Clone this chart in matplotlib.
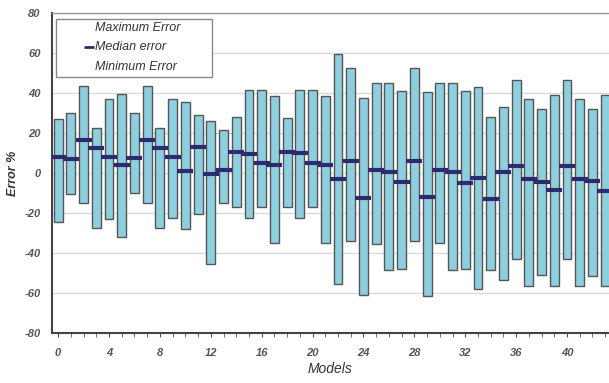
import matplotlib
matplotlib.use("Agg")
import matplotlib.pyplot as plt
from matplotlib.patches import Rectangle
from matplotlib.lines import Line2D
import numpy as np

models = list(range(44))
max_error = [27.2, 29.9, 43.7, 22.7, 36.9, 39.7, 29.9, 43.7, 22.4, 36.9,
             35.7, 29.0, 25.9, 21.4, 28.0, 41.4, 41.4, 38.7, 27.7, 41.4,
             41.4, 38.7, 59.6, 52.8, 37.6, 44.9, 44.9, 41.1, 52.8, 40.4,
             44.9, 44.9, 41.1, 42.9, 27.9, 33.2, 46.4, 36.9, 31.9, 39.2,
             46.4, 36.9, 31.9, 39.2]
min_error = [-24.4, -10.5, -15.2, -27.7, -22.9, -32.0, -10.2, -15.2, -27.7, -22.7,
             -28.2, -20.5, -45.4, -15.2, -17.2, -22.7, -17.2, -34.9, -17.2, -22.7,
             -17.2, -34.9, -55.3, -33.9, -60.9, -35.7, -48.6, -48.2, -33.9, -61.6,
             -35.2, -48.6, -48.2, -57.9, -48.6, -53.3, -43.2, -56.6, -51.1, -56.6,
             -43.2, -56.6, -51.3, -56.6]
median_error = [8.2, 7.2, 16.5, 12.7, 8.3, 4.3, 7.5, 16.5, 12.7, 8.2,
                1.2, 13.0, -0.2, 1.5, 10.7, 9.8, 5.2, 4.3, 10.5, 10.0,
                5.2, 4.3, -2.7, 6.3, -12.7, 1.5, 0.7, -4.5, 6.3, -12.2,
                1.5, 0.5, -5.0, -2.5, -13.0, 0.7, 3.5, -3.0, -4.5, -8.7,
                3.5, -3.0, -4.0, -8.8]
legend_labels = ['Maximum Error', 'Median error', 'Minimum Error']
xtick_labels = [0, 4, 8, 12, 16, 20, 24, 28, 32, 36, 40]
ytick_labels = [-80, -60, -40, -20, 0, 20, 40, 60, 80]

plt.rcParams['font.family'] = ['Liberation Sans', 'DejaVu Sans']

fig = plt.figure(figsize=(6.09, 3.83), dpi=100)
ax = fig.add_axes([0.085, 0.131, 0.915, 0.834])

x = np.array(models)
mx = np.array(max_error)
mn = np.array(min_error)
ax.bar(x, mx - mn, bottom=mn, width=0.7, color='#8ecfdf',
       edgecolor='#555555', linewidth=1.0, zorder=3)
ax.plot(x, median_error, ls='none', marker='_', ms=12, mew=3,
        color='#2e2a6e', zorder=4)

ax.set_xlim(-0.5, 43.3)
ax.set_ylim(-80, 80)
ax.set_yticks(ytick_labels)
ax.set_yticklabels([str(v) for v in ytick_labels])
ax.set_xticks(xtick_labels)
ax.set_xticklabels([str(v) for v in xtick_labels])
ax.set_xticks(models, minor=True)
ax.yaxis.grid(True, color='#d9d9d9', linewidth=1.0, zorder=0)
ax.set_axisbelow(True)

for lab in ax.get_xticklabels() + ax.get_yticklabels():
    lab.set_fontstyle('italic')
    lab.set_fontweight('bold')
    lab.set_color('#555555')
    lab.set_fontsize(8)

ax.tick_params(axis='y', length=0, pad=8)
ax.tick_params(axis='x', which='both', direction='out', length=3,
               color='#555555', pad=8)

ax.spines['left'].set_color('#444444')
ax.spines['left'].set_linewidth(1.5)
ax.spines['bottom'].set_color('#444444')
ax.spines['bottom'].set_linewidth(1.5)
ax.spines['top'].set_color('#999999')
ax.spines['top'].set_linewidth(1.0)
ax.spines['right'].set_visible(False)

ax.set_ylabel('Error %', fontstyle='italic', fontweight='bold',
              color='#333333', fontsize=9, labelpad=4)
ax.set_xlabel('Models', fontstyle='italic', color='#333333',
              fontsize=10, labelpad=3)

# legend box drawn by hand to match the original layout
box = Rectangle((0.0077, 0.800), 0.279, 0.182, transform=ax.transAxes,
                facecolor='white', edgecolor='#888888', linewidth=1.0,
                zorder=6)
ax.add_patch(box)
text_y = [0.953, 0.894, 0.833]
for lbl, ty in zip(legend_labels, text_y):
    ax.text(0.0777, ty, lbl, transform=ax.transAxes, ha='left', va='center',
            fontstyle='italic', fontsize=9, color='#333333', zorder=7)
ax.add_line(Line2D([0.0673], [text_y[1]], transform=ax.transAxes, ls='none',
                   marker='_', ms=7, mew=2, color='#2e2a6e', zorder=7))

fig.savefig('out.png', dpi=100)
